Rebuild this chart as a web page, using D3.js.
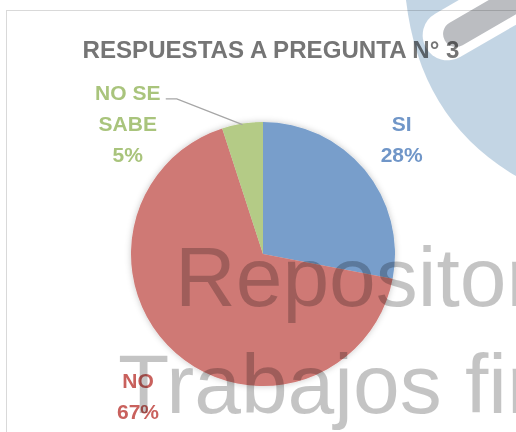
<!DOCTYPE html>
<html>
<head>
<meta charset="utf-8">
<script src="https://cdn.jsdelivr.net/npm/d3@7"></script>
<style>
  body { margin: 0; background: #fff; }
  svg { display: block; }
</style>
</head>
<body>
<script>
// datos de la pregunta 3
const categorias = ["SI", "NO", "NO SE SABE"]
const porcentajes = [28, 67, 5]
const lineasEtiqueta = [["SI"], ["NO"], ["NO SE", "SABE"]]
const colores = ["#789ECB", "#CF7975", "#B4CB86"]
const coloresTexto = ["#7096C8", "#C9615D", "#A9C47C"]
const titulo = "RESPUESTAS A PREGUNTA N° 3"
const marcaAgua = ["Repositorio", "Trabajos fin"]

var width = 516
var height = 432

var svg = d3.select("body")
    .append("svg")
        .attr("width", width)
        .attr("height", height)

var defs = svg.append("defs")
defs.append("filter")
        .attr("id", "sombra")
        .attr("x", "-20%").attr("y", "-20%")
        .attr("width", "140%").attr("height", "140%")
    .append("feDropShadow")
        .attr("dx", 0).attr("dy", 0)
        .attr("stdDeviation", 3)
        .attr("flood-color", "#000")
        .attr("flood-opacity", 0.22)

//Marco del gráfico
svg.append("rect")
    .attr("x", 6.5).attr("y", 10.5)
    .attr("width", width).attr("height", height)
    .attr("fill", "none")
    .attr("stroke", "#D9D9D9")

//Título
svg.append("text")
    .attr("x", 271)
    .attr("y", 58)
    .attr("text-anchor", "middle")
    .attr("textLength", 377)
    .attr("lengthAdjust", "spacingAndGlyphs")
    .style("font-family", "'Liberation Sans', Arial, sans-serif")
    .style("font-weight", "bold")
    .style("font-size", "24px")
    .style("fill", "#757575")
    .text(titulo)

//Tarta
var cx = 263, cy = 254, radio = 132

var pie = d3.pie().sort(null).value(d => d)
var arcos = pie(porcentajes)
var arco = d3.arc().innerRadius(0).outerRadius(radio)

var g = svg.append("g")
    .attr("transform", "translate(" + cx + "," + cy + ")")

g.append("g")
        .attr("filter", "url(#sombra)")
    .selectAll("path")
    .data(arcos)
    .join("path")
        .attr("d", arco)
        .attr("fill", (d, i) => colores[i])

//Etiquetas (radio y giro de cada etiqueta)
var radioEtiqueta = [180, 189, 188]
var giroEtiqueta = [0, 0, -37]
var interlineado = 31

arcos.forEach(function (d, i) {
    var medio = (d.startAngle + d.endAngle) / 2
    var ang = medio + giroEtiqueta[i] * Math.PI / 180
    var lx = Math.sin(ang) * radioEtiqueta[i]
    var ly = -Math.cos(ang) * radioEtiqueta[i]
    var lineas = lineasEtiqueta[i].concat([porcentajes[i] + "%"])
    var y0 = ly + 7.5 - (lineas.length - 1) * interlineado / 2

    var t = g.append("text")
        .attr("text-anchor", "middle")
        .style("font-family", "'Liberation Sans', Arial, sans-serif")
        .style("font-weight", "bold")
        .style("font-size", "21px")
        .style("fill", coloresTexto[i])
    lineas.forEach(function (l, k) {
        t.append("tspan")
            .attr("x", lx)
            .attr("y", y0 + k * interlineado)
            .text(l)
    })

    //línea guía cuando la etiqueta está desplazada
    if (giroEtiqueta[i] != 0) {
        var px = Math.sin(medio) * (radio - 1)
        var py = -Math.cos(medio) * (radio - 1)
        var sx = lx + 38
        var sy = y0 - 1
        g.append("polyline")
            .attr("points", [[sx, sy], [sx + 11, sy], [px, py]].map(p => p.join(",")).join(" "))
            .attr("fill", "none")
            .attr("stroke", "#A6A6A6")
            .attr("stroke-width", 1.3)
    }
})

//Marca de agua
var marca = svg.append("g")
    .style("font-family", "'Liberation Sans', Arial, sans-serif")
    .style("font-size", "84px")
    .style("fill", "#000")
    .style("fill-opacity", 0.23)
marca.append("text").attr("x", 175).attr("y", 306).text(marcaAgua[0])
marca.append("text").attr("x", 118).attr("y", 413).text(marcaAgua[1])

//Logo de la esquina
var mascara = defs.append("mask").attr("id", "hueco")
mascara.append("rect").attr("width", width).attr("height", height).attr("fill", "#fff")
mascara.append("rect")
    .attr("transform", "translate(455,38) rotate(-30)")
    .attr("x", -30).attr("y", -31)
    .attr("width", 200).attr("height", 50)
    .attr("rx", 25)
    .attr("fill", "#000")

svg.append("path")
    .attr("d", "M406,0 Q420,120 516,176 L516,0 Z")
    .attr("fill", "#C3D5E4")
    .attr("mask", "url(#hueco)")
    .style("mix-blend-mode", "multiply")

svg.append("rect")
    .attr("transform", "translate(455,38) rotate(-30)")
    .attr("x", -10).attr("y", -16)
    .attr("width", 180).attr("height", 26)
    .attr("rx", 13)
    .attr("fill", "#BBBDC1")
    .style("mix-blend-mode", "multiply")
</script>
</body>
</html>
